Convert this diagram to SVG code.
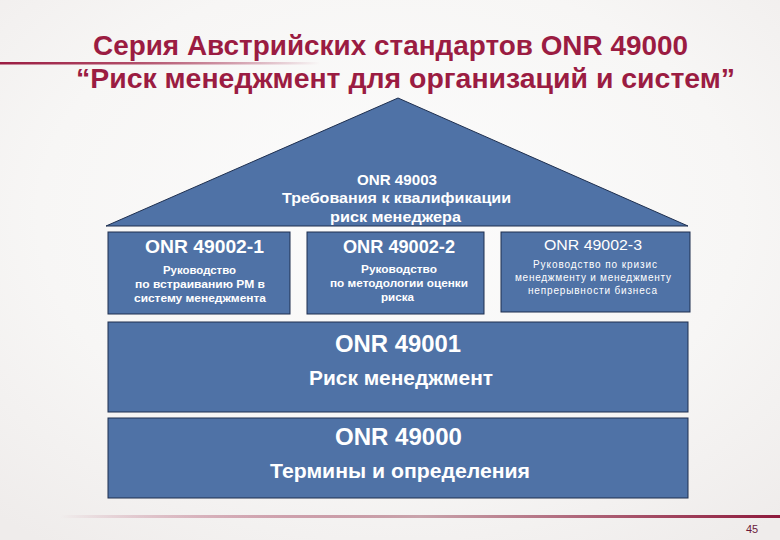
<svg xmlns="http://www.w3.org/2000/svg" width="780" height="540" viewBox="0 0 780 540">
  <defs>
    <radialGradient id="bg" cx="50%" cy="40%" r="75%">
      <stop offset="0" stop-color="#fcfcfc"/>
      <stop offset="0.6" stop-color="#f7f6f5"/>
      <stop offset="1" stop-color="#efeceb"/>
    </radialGradient>
    <linearGradient id="topLine" x1="0" y1="0" x2="1" y2="0">
      <stop offset="0" stop-color="#9b1c42"/>
      <stop offset="0.4" stop-color="#b04a66"/>
      <stop offset="1" stop-color="#9b1c42" stop-opacity="0"/>
    </linearGradient>
    <linearGradient id="botLine" x1="0" y1="0" x2="1" y2="0">
      <stop offset="0" stop-color="#9b1c42" stop-opacity="0"/>
      <stop offset="0.5" stop-color="#c9a3ab"/>
      <stop offset="1" stop-color="#8e1a3c"/>
    </linearGradient>
    <style>
      .blk { fill: #4f72a6; stroke: #1e2f4f; stroke-width: 1; }
      .t { font-family: "Liberation Sans", Arial, sans-serif; fill: #ffffff; }
      .b { font-weight: bold; }
      .title { font-family: "Liberation Sans", Arial, sans-serif; font-weight: bold; fill: #9b1c42; }
    </style>
  </defs>
  <rect x="0" y="0" width="780" height="540" fill="url(#bg)"/>
  <rect x="0" y="62" width="320" height="2.5" fill="url(#topLine)"/>
  <rect x="60" y="515" width="720" height="3" fill="url(#botLine)"/>

  <g id="title">
    <text class="title" x="93" y="55" font-size="28" textLength="595" lengthAdjust="spacingAndGlyphs">Серия Австрийских стандартов ONR 49000</text>
    <text class="title" x="76" y="88" font-size="28" textLength="659" lengthAdjust="spacingAndGlyphs">“Риск менеджмент для организаций и систем”</text>
  </g>

  <g id="connectors"></g>

  <g id="roof">
    <polygon class="blk" points="106,226 398,98 688,226"/>
    <text class="t b" x="357" y="185" font-size="14.5" textLength="80" lengthAdjust="spacingAndGlyphs">ONR 49003</text>
    <text class="t b" x="282" y="203" font-size="14.5" textLength="229" lengthAdjust="spacingAndGlyphs">Требования к квалификации</text>
    <text class="t b" x="330" y="222" font-size="14.5" textLength="131" lengthAdjust="spacingAndGlyphs">риск менеджера</text>
  </g>

  <g id="onr49002-1">
    <rect class="blk" x="108" y="232" width="182" height="82"/>
    <text class="t b" x="145" y="253" font-size="18" textLength="119" lengthAdjust="spacingAndGlyphs">ONR 49002-1</text>
    <text class="t b" x="163" y="274" font-size="11.5" textLength="73" lengthAdjust="spacingAndGlyphs">Руководство</text>
    <text class="t b" x="135" y="288" font-size="11.5" textLength="130" lengthAdjust="spacingAndGlyphs">по встраиванию  РМ в</text>
    <text class="t b" x="134" y="302" font-size="11.5" textLength="132" lengthAdjust="spacingAndGlyphs">систему менеджмента</text>
  </g>

  <g id="onr49002-2">
    <rect class="blk" x="307" y="232" width="177" height="82"/>
    <text class="t b" x="343" y="253" font-size="18" textLength="112" lengthAdjust="spacingAndGlyphs">ONR 49002-2</text>
    <text class="t b" x="361" y="273" font-size="11.5" textLength="76" lengthAdjust="spacingAndGlyphs">Руководство</text>
    <text class="t b" x="330" y="287" font-size="11.5" textLength="138" lengthAdjust="spacingAndGlyphs">по методологии оценки</text>
    <text class="t b" x="381" y="301" font-size="11.5" textLength="33" lengthAdjust="spacingAndGlyphs">риска</text>
  </g>

  <g id="onr49002-3">
    <rect class="blk" x="501" y="232" width="189" height="80"/>
    <text class="t" x="544" y="250" font-size="15" textLength="98" lengthAdjust="spacingAndGlyphs">ONR 49002-3</text>
    <text class="t" x="533" y="268" font-size="10" textLength="124" lengthAdjust="spacing">Руководство по кризис</text>
    <text class="t" x="515" y="281" font-size="10" textLength="156" lengthAdjust="spacing">менеджменту  и менеджменту</text>
    <text class="t" x="528" y="294" font-size="10" textLength="129" lengthAdjust="spacing">непрерывности бизнеса</text>
  </g>

  <g id="onr49001">
    <rect class="blk" x="108" y="322" width="580" height="90"/>
    <text class="t b" x="335" y="352" font-size="23" textLength="126" lengthAdjust="spacingAndGlyphs">ONR 49001</text>
    <text class="t b" x="309" y="385" font-size="20" textLength="184" lengthAdjust="spacingAndGlyphs">Риск менеджмент</text>
  </g>

  <g id="onr49000">
    <rect class="blk" x="108" y="418" width="580" height="80"/>
    <text class="t b" x="335" y="445" font-size="23" textLength="127" lengthAdjust="spacingAndGlyphs">ONR 49000</text>
    <text class="t b" x="270" y="478" font-size="20" textLength="260" lengthAdjust="spacingAndGlyphs">Термины и определения</text>
  </g>

  <text x="752" y="533" font-family="Liberation Sans, Arial, sans-serif" font-size="11" fill="#6b1a3a" text-anchor="middle">45</text>
</svg>
